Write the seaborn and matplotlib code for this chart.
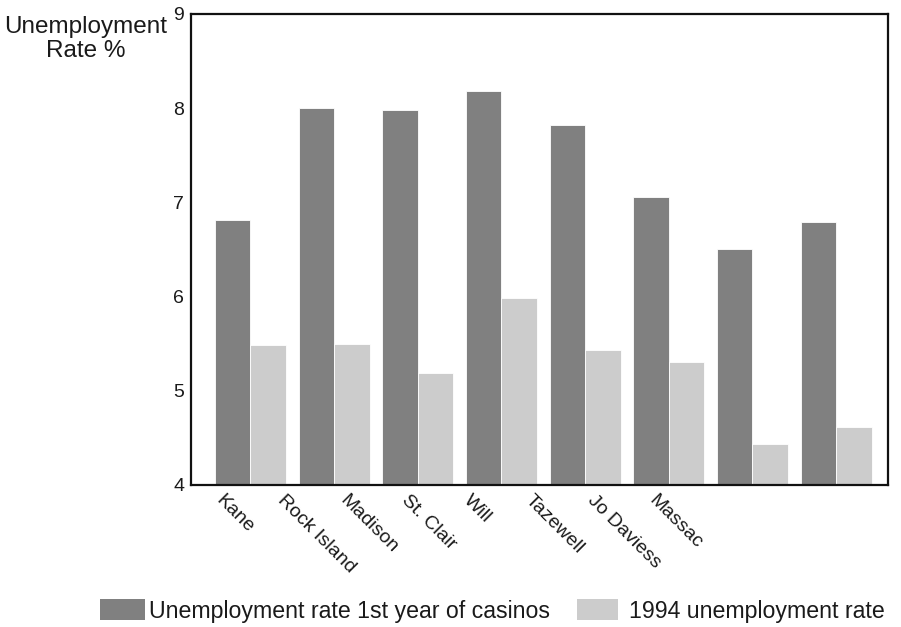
import numpy as np
import pandas as pd
import matplotlib
matplotlib.use("Agg")
import matplotlib.pyplot as plt
from matplotlib.patches import Patch
import seaborn as sns

counties = ["Kane", "Rock Island", "Madison", "St. Clair", "Will",
            "Tazewell", "Jo Daviess", "Massac"]
first_year_rate = [6.81, 8.00, 7.98, 8.18, 7.82, 7.06, 6.50, 6.79]
rate_1994 = [5.49, 5.50, 5.19, 5.99, 5.43, 5.31, 4.44, 4.62]
series_names = ["Unemployment rate 1st year of casinos", "1994 unemployment rate"]
series_colors = ["#808080", "#cccccc"]
y_ticks = [4, 5, 6, 7, 8, 9]

df = pd.DataFrame({
    "county": counties * 2,
    "rate": first_year_rate + rate_1994,
    "series": [series_names[0]] * len(counties) + [series_names[1]] * len(counties),
})

sns.set_theme(style="white")
plt.rcParams["font.family"] = ["Liberation Sans", "DejaVu Sans"]

fig = plt.figure(figsize=(9.01, 6.27), dpi=100)
ax = fig.add_axes([0.212, 0.2265, 0.7736, 0.7512])

sns.barplot(data=df, x="county", y="rate", hue="series", order=counties,
            hue_order=series_names, palette=series_colors, width=0.85,
            edgecolor="white", linewidth=0.6, saturation=1, ax=ax,
            legend=False)

ax.set_ylim(4, 9)
ax.set_xlim(-0.71, 7.62)
ax.set_yticks(y_ticks)
ax.set_yticklabels([str(t) for t in y_ticks], fontsize=14, color="#1a1a1a")
ax.tick_params(axis="y", length=0, pad=5)

# slanted county names along the bottom
label_pos = -0.31 + 0.74 * np.arange(len(counties))
ax.set_xticks(label_pos)
ax.set_xticklabels(counties, fontsize=14, color="#1a1a1a", rotation=-45,
                   ha="left", va="top", rotation_mode="anchor")
ax.tick_params(axis="x", length=0, pad=5)
ax.set_xlabel("")
ax.set_ylabel("")

for side in ["left", "right", "top", "bottom"]:
    ax.spines[side].set_visible(True)
    ax.spines[side].set_color("#111111")
    ax.spines[side].set_linewidth(1.6)

fig.text(0.095, 0.975, "Unemployment\nRate %", ha="center", va="top",
         fontsize=17.5, color="#1a1a1a", linespacing=1.15)

# one legend entry per series, laid out along the bottom
legend_x = [0.111, 0.6404]
legend_pad = [0.17, 0.47]
legend_len = [1.94, 1.77]
for name, color, x, pad, hl in zip(series_names, series_colors, legend_x,
                                   legend_pad, legend_len):
    fig.legend([Patch(facecolor=color, edgecolor="none")], [name],
               loc="center left", bbox_to_anchor=(x, 0.0255),
               frameon=False, fontsize=16.7, handlelength=hl,
               handleheight=1.0, handletextpad=pad, borderpad=0,
               borderaxespad=0, labelcolor="#1a1a1a")

fig.savefig("out.png", dpi=100)
